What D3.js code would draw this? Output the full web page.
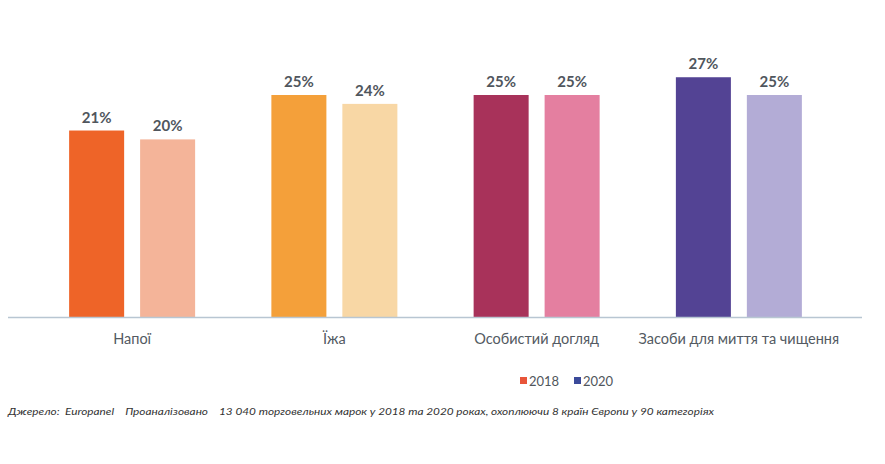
<!DOCTYPE html>
<html>
<head>
<meta charset="utf-8">
<script src="https://cdn.jsdelivr.net/npm/d3@7"></script>
<style>
  body { margin: 0; background: #fff; }
  text { font-family: Lato, "Open Sans", sans-serif; }
</style>
</head>
<body>
<div id="chart"></div>
<script>
// categories and values (share, %)
const categories = ['Напої', 'Їжа', 'Особистий догляд', 'Засоби для миття та чищення']
const years = ['2018', '2020']
const values2018 = [21, 25, 25, 27]
const values2020 = [20, 24, 25, 25]
const colors2018 = ['#ee6428', '#f4a03a', '#a8325a', '#534394']
const colors2020 = ['#f4b499', '#f8d7a5', '#e47fa0', '#b3acd6']
const legendColors = ['#e8553a', '#3b4a9a']
const sourceText = 'Джерело:  Europanel    Проаналізовано    13 040 торговельних марок у 2018 та 2020 роках, охоплюючи 8 країн Європи у 90 категоріях'

const width = 885
const height = 464
const baseY = 317

const svg = d3.select('#chart')
  .append('svg')
  .attr('width', width)
  .attr('height', height)

const x0 = d3.scaleBand()
  .domain(categories)
  .range([31, 840])

const x1 = d3.scaleBand()
  .domain(years)
  .range([0, 126])
  .paddingInner(0.225)

const y = d3.scaleLinear()
  .domain([0, 25])
  .range([baseY, 95])

const rows = []
categories.forEach(function (c, i) {
  rows.push({ cat: c, year: '2018', v: values2018[i], color: colors2018[i] })
  rows.push({ cat: c, year: '2020', v: values2020[i], color: colors2020[i] })
})

const barX = function (d) {
  return x0(d.cat) + x0.bandwidth() / 2 - 63 + x1(d.year)
}

svg.append('g')
  .selectAll('rect')
  .data(rows)
  .enter().append('rect')
  .attr('x', barX)
  .attr('y', d => y(d.v))
  .attr('width', x1.bandwidth())
  .attr('height', d => baseY - y(d.v))
  .style('fill', d => d.color)

// value labels
svg.append('g')
  .selectAll('text')
  .data(rows)
  .enter().append('text')
  .attr('x', d => barX(d) + x1.bandwidth() / 2)
  .attr('y', d => y(d.v) - 8)
  .attr('text-anchor', 'middle')
  .style('font-size', '15px')
  .style('font-weight', 'bold')
  .style('fill', '#50565d')
  .text(d => d.v + '%')

// baseline
svg.append('line')
  .attr('x1', 8)
  .attr('x2', 862)
  .attr('y1', baseY + 0.5)
  .attr('y2', baseY + 0.5)
  .style('stroke', '#b8c6d2')
  .style('stroke-width', 1.5)

// category labels
const xAxis = d3.axisBottom(x0).tickSize(0).tickPadding(17)
const ax = svg.append('g')
  .attr('transform', 'translate(0,' + baseY + ')')
  .call(xAxis)
ax.select('.domain').remove()
ax.selectAll('text')
  .style('font-family', 'Lato, "Open Sans", sans-serif')
  .style('font-size', '14.5px')
  .style('fill', '#535a62')

// legend
const legend = svg.append('g')
  .attr('transform', 'translate(520,381)')
years.forEach(function (yr, i) {
  const g = legend.append('g').attr('transform', 'translate(' + (i * 54) + ',0)')
  g.append('rect')
    .attr('x', 0)
    .attr('y', -4)
    .attr('width', 7)
    .attr('height', 7)
    .style('fill', legendColors[i])
  g.append('text')
    .attr('x', 9)
    .attr('y', 5)
    .style('font-size', '13px')
    .style('fill', '#50565c')
    .text(yr)
})

// source note
svg.append('text')
  .attr('x', 8)
  .attr('y', 415)
  .attr('textLength', 706)
  .attr('lengthAdjust', 'spacingAndGlyphs')
  .style('font-size', '10px')
  .style('font-style', 'italic')
  .style('fill', '#333')
  .attr('xml:space', 'preserve')
  .style('white-space', 'pre')
  .text(sourceText)
</script>
</body>
</html>
